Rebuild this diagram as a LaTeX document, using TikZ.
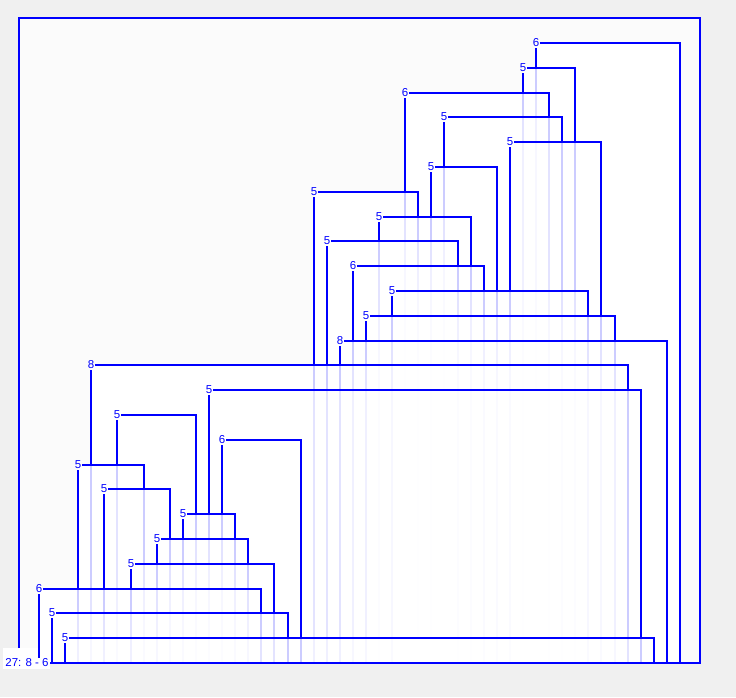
\documentclass[tikz,border=0pt]{standalone}
\usepackage{fontspec}
\setmainfont{Liberation Sans}
\definecolor{outerbg}{HTML}{F0F0F0}
\definecolor{innerbg}{HTML}{FBFBFB}
\definecolor{lineblue}{HTML}{0000FF}
% faint continuation of a vertical, fading under each later box
\newcommand\ghostline[2]{%
  \pgfmathsetmacro\gx{round(39+13.08*#1)}%
  \pgfmathsetmacro\gytmp{round(43+24.8*#2)}\xdef\gy{\gytmp}%
  \xdef\gp{20}%
  \ifnum#2<24
    \pgfmathtruncatemacro\gstart{#2+1}%
    \foreach \j in {\gstart,...,24}{%
      \edef\gL{\csname gl\j\endcsname}\edef\gR{\csname gr\j\endcsname}%
      \ifnum\gL<#1 \ifnum\gR>#1
        \pgfmathsetmacro\gyn{round(43+24.8*\j)}%
        \draw[draw=lineblue!\gp!white,line width=2.4pt] (\gx,\gy) -- (\gx,\gyn);
        \xdef\gy{\gyn}%
        \pgfmathsetmacro\gpn{\gp*0.55}\xdef\gp{\gpn}%
      \fi\fi
    }%
  \fi
  \draw[draw=lineblue!\gp!white,line width=2.4pt] (\gx,\gy) -- (\gx,663);%
}
\begin{document}
\begin{tikzpicture}[x=1pt,y=-1pt,
  lbl/.style={text=lineblue,font=\fontsize{11.5}{13}\selectfont,inner sep=1pt},
  bar/.style={draw=lineblue,line width=1.8pt,line join=miter}]
\useasboundingbox (0,0) rectangle (736,697);
\fill[outerbg] (0,0) rectangle (736,697);
\fill[innerbg] (19,18) rectangle (700,663);
% row / label column / right column / label target row / right target row / text / anchor
\def\nodedata{0/38/49/1/25/6/center, 1/37/41/2/4/5/center, 2/28/39/6/3/6/center,
 3/31/40/5/4/5/center, 4/36/43/10/11/5/center, 5/30/35/7/10/5/center,
 6/21/29/13/7/5/center, 7/26/33/8/9/5/center, 8/22/32/13/9/5/center,
 9/24/34/12/10/6/center, 10/27/42/11/11/5/center, 11/25/44/12/12/5/center,
 12/23/48/13/25/8/center, 13/4/45/17/14/8/center, 14/13/46/19/24/5/center,
 15/6/12/17/19/5/center, 16/14/20/19/24/6/center, 17/3/8/22/18/5/center,
 18/5/10/22/20/5/center, 19/11/15/20/20/5/center, 20/9/16/21/21/5/center,
 21/7/18/22/23/5/center, 22/0/17/25/23/6/north, 23/1/19/25/24/5/center,
 24/2/47/25/25/5/center}
% white areas below each bar, and the column ranges
\foreach \k/\lc/\rc/\lt/\rt/\t/\an in \nodedata {
  \fill[white] ({round(39+13.08*\lc)},{round(43+24.8*\k)}) rectangle ({round(39+13.08*\rc)},663);
  \expandafter\xdef\csname gl\k\endcsname{\lc}%
  \expandafter\xdef\csname gr\k\endcsname{\rc}%
}
\fill[white] (3,648) rectangle (50,669);
% labels
\foreach \k/\lc/\rc/\lt/\rt/\t/\an in \nodedata {
  \node[lbl] (n\k) at ({round(39+13.08*\lc)},{round(43+24.8*\k)}) {\t};
  \coordinate (r\k) at ({round(39+13.08*\rc)},{round(43+24.8*\k)});
}
\node[lbl] (n25) at (27,663) {27: 8 - 6};
\coordinate (boxtop) at (19,648);
\coordinate (tl) at (19,18);
\coordinate (tr) at (700,18);
\coordinate (br) at (700,663);
% faint continuations
\foreach \k/\lc/\rc/\lt/\rt/\t/\an in \nodedata {
  \ifnum\lt<25 \ghostline{\lc}{\lt}\fi
  \ifnum\rt<25 \ghostline{\rc}{\rt}\fi
}
% connectors
\foreach \k/\lc/\rc/\lt/\rt/\t/\an in \nodedata {
  \draw[bar] (n\k.east) -- (r\k) -- (r\k |- n\rt);
  \draw[bar] (n\k.south) -- (n\k |- n\lt.\an);
}
\draw[bar] (boxtop) -- (tl) -- (tr) -- (br) -- (n25.east);
\end{tikzpicture}
\end{document}
